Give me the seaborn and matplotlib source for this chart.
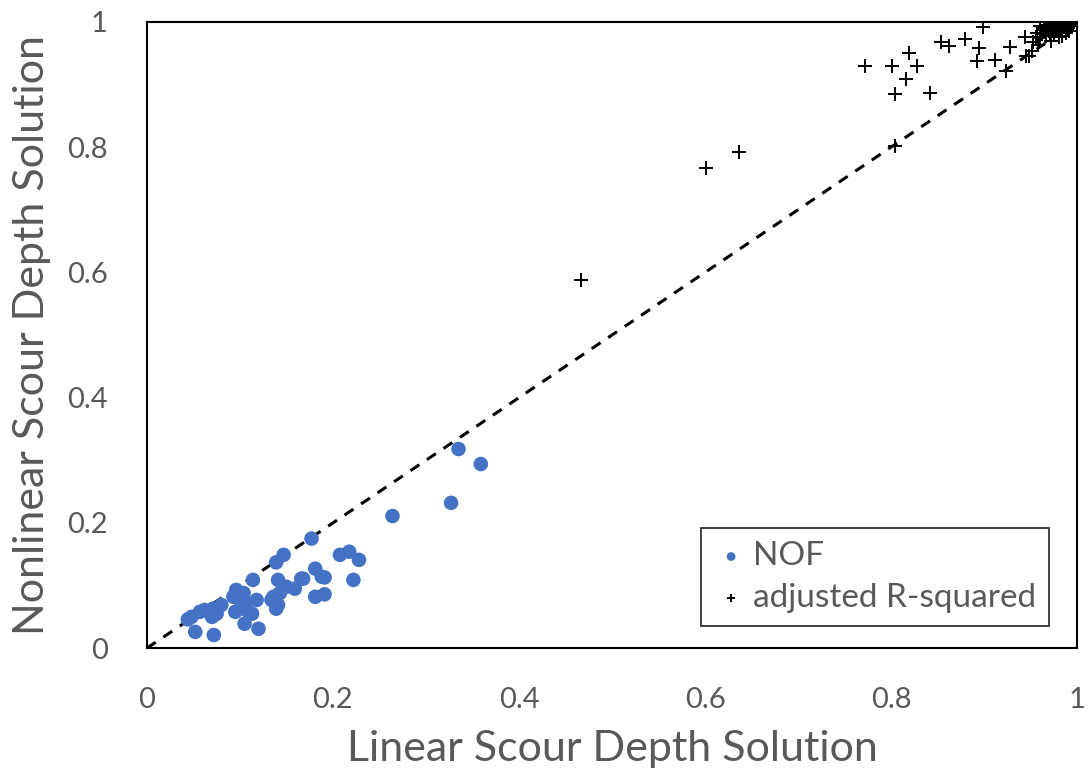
import pandas as pd
import numpy as np
import matplotlib
matplotlib.use("Agg")
import matplotlib.pyplot as plt
import seaborn as sns

# NOF points (linear solution, nonlinear solution)
nof_x = [0.264, 0.177, 0.147, 0.139, 0.2075, 0.2175, 0.228, 0.222, 0.181, 0.188,
         0.191, 0.181, 0.191, 0.168, 0.159, 0.166, 0.150, 0.141, 0.143, 0.136,
         0.134, 0.139, 0.141, 0.114, 0.096, 0.104, 0.093, 0.100, 0.105, 0.118,
         0.080, 0.071, 0.062, 0.057, 0.075, 0.070, 0.095, 0.107, 0.113, 0.105,
         0.120, 0.044, 0.048, 0.052, 0.072, 0.327, 0.335, 0.359]
nof_y = [0.211, 0.175, 0.149, 0.137, 0.149, 0.154, 0.141, 0.109, 0.127, 0.114,
         0.113, 0.082, 0.086, 0.111, 0.095, 0.111, 0.098, 0.109, 0.088, 0.082,
         0.077, 0.063, 0.069, 0.109, 0.093, 0.088, 0.082, 0.077, 0.074, 0.077,
         0.069, 0.063, 0.061, 0.058, 0.055, 0.050, 0.058, 0.061, 0.055, 0.039,
         0.031, 0.046, 0.050, 0.026, 0.021, 0.232, 0.318, 0.294]

# adjusted R-squared points
adj_x = [0.467, 0.601, 0.636, 0.772, 0.801, 0.828, 0.816, 0.804, 0.842, 0.819,
         0.804, 0.854, 0.862, 0.880, 0.894, 0.892, 0.912, 0.899, 0.928, 0.944,
         0.924, 0.948, 0.960, 0.967, 0.982, 0.989, 0.996, 0.957, 0.964, 0.975,
         0.953, 0.951, 0.945, 0.960, 0.971, 0.980, 0.987, 0.967, 0.958, 0.970,
         0.975, 0.985, 0.990, 0.965, 0.978, 0.993, 0.984, 0.972, 0.962, 0.969,
         0.977, 0.983, 0.988, 0.994, 0.956, 0.973, 0.981, 0.991]
adj_y = [0.588, 0.766, 0.792, 0.930, 0.929, 0.929, 0.908, 0.885, 0.886, 0.951,
         0.802, 0.968, 0.962, 0.973, 0.958, 0.938, 0.939, 0.991, 0.960, 0.975,
         0.921, 0.945, 0.993, 0.995, 1.000, 0.998, 0.996, 0.982, 0.987, 0.990,
         0.968, 0.953, 0.945, 0.974, 0.982, 0.990, 0.993, 0.977, 0.963, 0.985,
         0.980, 0.995, 0.990, 0.990, 0.985, 0.994, 0.978, 0.970, 0.980, 0.992,
         0.996, 0.987, 0.982, 0.999, 0.976, 0.988, 0.975, 0.985]

ticks = [0, 0.2, 0.4, 0.6, 0.8, 1]
tick_labels = ["0", "0.2", "0.4", "0.6", "0.8", "1"]

sns.set_style("white")
plt.rcParams['font.family'] = ['Lato', 'DejaVu Sans']
grey = "#595959"

fig = plt.figure(figsize=(10.88, 7.8), dpi=100)
ax = fig.add_axes([0.135, 0.169, 0.855, 0.803])

ax.plot([0, 1], [0, 1], color="black", ls=(0, (3.5, 3)), lw=2.2, zorder=1)

nof = pd.DataFrame({"x": nof_x, "y": nof_y})
adj = pd.DataFrame({"x": adj_x, "y": adj_y})
sns.scatterplot(data=nof, x="x", y="y", ax=ax, color="#4472C4", s=110,
                edgecolor="none", label="NOF", zorder=3)
sns.scatterplot(data=adj, x="x", y="y", ax=ax, color="black", marker="+", s=110,
                linewidth=1.4, label="adjusted R-squared", zorder=3)

ax.set_xlim(0, 1)
ax.set_ylim(0, 1)
ax.set_xticks(ticks)
ax.set_xticklabels(tick_labels)
ax.set_yticks(ticks)
ax.set_yticklabels(tick_labels)
ax.tick_params(direction="in", length=7, width=1.3, colors="black",
               labelcolor=grey, labelsize=21)
ax.tick_params(axis="x", pad=28)
ax.tick_params(axis="y", pad=28)
for sp in ax.spines.values():
    sp.set_color("black")
    sp.set_linewidth(1.5)

ax.set_xlabel("Linear Scour Depth Solution", fontsize=31, color=grey, labelpad=12)
ax.set_ylabel("Nonlinear Scour Depth Solution", fontsize=31, color=grey, labelpad=12)

leg = ax.legend(loc="lower right", bbox_to_anchor=(0.970, 0.035), borderaxespad=0,
                fontsize=24, frameon=True, fancybox=False, edgecolor="black",
                handletextpad=0.15, markerscale=0.6, labelspacing=0.35,
                borderpad=0.4, handlelength=1.0)
leg.get_frame().set_linewidth(1.3)
for t in leg.get_texts():
    t.set_color(grey)

fig.savefig("out.png", dpi=100)
